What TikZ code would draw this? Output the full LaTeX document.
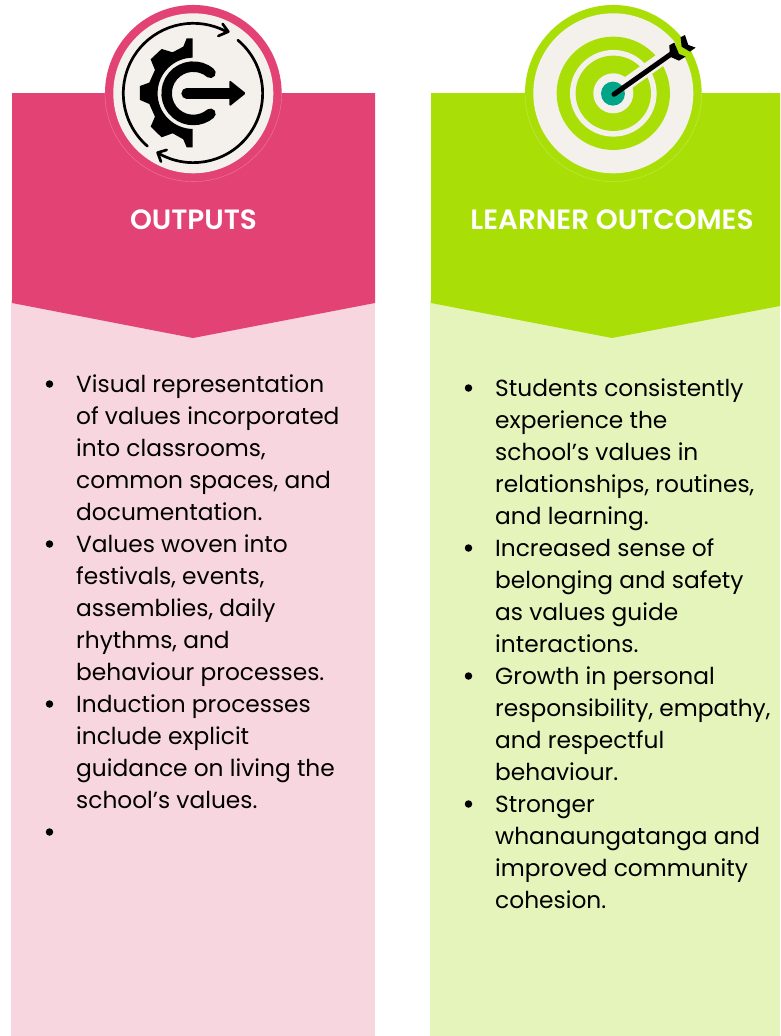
\documentclass[tikz,border=0pt]{standalone}
\usepackage{fontspec}
\setmainfont{Poppins}
\newfontfamily\headfont{Poppins SemiBold}
\definecolor{rose}{HTML}{E34274}
\definecolor{palerose}{HTML}{F7D6DF}
\definecolor{lime}{HTML}{A9DF06}
\definecolor{palelime}{HTML}{E5F4BA}
\definecolor{creamy}{HTML}{F4F1EC}
\definecolor{tealdot}{HTML}{00A587}
\begin{document}
\begin{tikzpicture}[x=1pt,y=1pt,
  headlabel/.style={text=white,font=\headfont\fontsize{27.9}{27.9}\selectfont,anchor=center,inner sep=0pt},
  bodyline/.style={anchor=base west,inner sep=0pt,text=black,font=\fontsize{23.3}{32}\selectfont},
  bulletdot/.style={circle,fill=black,inner sep=0pt,minimum size=7.5pt},
  iconunits/.style={x=0.33333pt,y=0.33333pt},
  cyclearc/.style={draw=black,line width=2.7pt,line cap=round,line join=round}]
\useasboundingbox (0,0) rectangle (780,-1036);
\fill[white] (0,0) rectangle (780,-1036);
\fill[palerose] (11,-300) rectangle (375,-1036);
\fill[rose] (12,-93) -- (375,-93) -- (375,-303) -- (193,-338) -- (12,-303) -- cycle;
\fill[palelime] (430,-300) rectangle (780,-1036);
\fill[lime] (431,-93) -- (780,-93) -- (780,-306) -- (612,-338) -- (431,-303) -- cycle;
% gear icon
\begin{scope}[shift={(193.3,-93.3)},iconunits]
  \fill[rose] (0,0) circle (265);
  \draw[rose!70!white,line width=.4pt] (-265,0) arc[start angle=180,end angle=360,radius=265];
  \fill[creamy] (0,0) circle (240);
  \draw[cyclearc] (229:210) arc[start angle=229,end angle=62,radius=210];
  \draw[cyclearc] (88,208) -- (105,185) -- (75,172);
  \draw[cyclearc] (50:208) arc[start angle=50,end angle=-120,radius=208];
  \draw[cyclearc] (-80,-170) -- (-107,-178) -- (-97,-205);
  \fill[black] (-2,165) -- (-20,165) -- (-30,140) -- (-62,123) -- (-95,133) -- (-128,102) -- (-115,70) -- (-132,32) -- (-160,22) -- (-160,-20) -- (-132,-32) -- (-115,-70) -- (-128,-100) -- (-95,-132) -- (-62,-120) -- (-30,-138) -- (-20,-162) -- (-2,-162) -- (-2,-107) arc[start angle=269,end angle=91,radius=107] -- cycle;
  \draw[black,line width=10.5pt,line cap=round] (50:80) arc[start angle=50,end angle=310,radius=80];
  \draw[black,line width=10.5pt,line cap=round] (-20,0) -- (115,0);
  \fill[black,rounded corners=1.5pt] (108,40) -- (158,0) -- (108,-40) -- cycle;
\end{scope}
% target icon
\begin{scope}[shift={(613.3,-93.3)},iconunits]
  \fill[lime] (0,0) circle (265);
  \draw[lime!70!white,line width=.4pt] (-265,0) arc[start angle=180,end angle=360,radius=265];
  \fill[creamy] (0,0) circle (240);
  \fill[lime] (0,0) circle (170);
  \fill[creamy] (0,0) circle (130);
  \fill[lime] (0,0) circle (113);
  \fill[creamy] (0,0) circle (60);
  \draw[creamy,line width=13pt] (0,0) -- (185,131);
  \fill[tealdot] (-1,-1) circle (36);
  \draw[black,line width=5pt,line cap=round] (2,-3) -- (185,126);
  \begin{scope}[shift={(16,12)}]
    \fill[lime] (170,142) -- (185,150) -- (197,118) -- (217,110) -- (197,98) -- (173,110) -- cycle;
  \end{scope}
  \fill[black] (202,168) -- (215,175) -- (225,145) -- (247,137) -- (230,125) -- (205,140) -- cycle;
  \fill[black] (168,144) -- (183,152) -- (197,118) -- (217,110) -- (197,98) -- (170,110) -- cycle;
\end{scope}
\node[headlabel] (h1) at (193.5,-220) {OUTPUTS};
\node[headlabel] (h2) at (612,-220) {LEARNER OUTCOMES};
\foreach \n/\t [count=\i] in {392/Visual representation,424/of values incorporated,456/{into classrooms,},488/{common spaces, and},520/documentation.,552/Values woven into,584/{festivals, events,},616/{assemblies, daily},648/{rhythms, and},680/behaviour processes.,712/Induction processes,744/include explicit,776/guidance on living the,808/school’s values.}
  \node[bodyline] (l\i) at (76,-\n) {\t};
\foreach \n/\t [count=\i] in {396/Students consistently,428/experience the,460/school’s values in,492/{relationships, routines,},524/and learning.,556/Increased sense of,588/belonging and safety,620/as values guide,652/interactions.,684/Growth in personal,716/{responsibility, empathy,},748/and respectful,780/behaviour.,812/Stronger,844/whanaungatanga and,876/improved community,908/cohesion.}
  \node[bodyline] (r\i) at (495,-\n) {\t};
\foreach \y [count=\i] in {384,544,704,832} \node[bulletdot] (bl\i) at (49.5,-\y) {};
\foreach \y [count=\i] in {388,548,676,804} \node[bulletdot] (br\i) at (468.5,-\y) {};
\end{tikzpicture}
\end{document}
